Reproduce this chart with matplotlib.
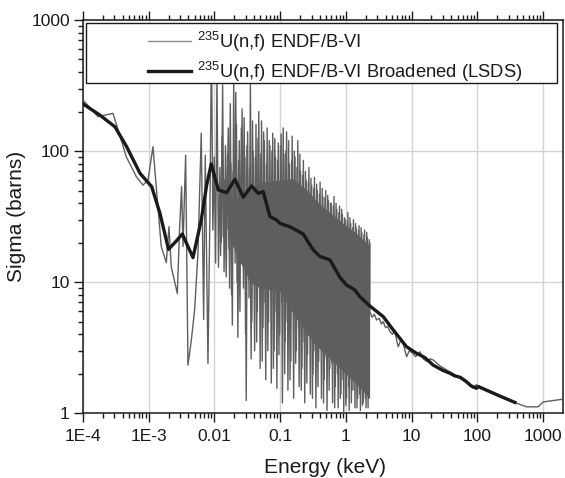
import matplotlib
matplotlib.use("Agg")
import matplotlib.pyplot as plt
from matplotlib.ticker import FixedLocator, FixedFormatter, LogLocator, NullFormatter
from matplotlib.patches import Rectangle

plt.rcParams['font.family'] = ['Liberation Sans', 'DejaVu Sans']
plt.rcParams['mathtext.default'] = 'regular'

# ---------------- data ----------------
# Gray ENDF/B-VI curve, smooth low-energy part (keV, barns)
E_low = [1.0e-4, 1.69e-4, 2.86e-4, 4.55e-4, 6.47e-4, 8.17e-4, 9.73e-4, 1.16e-3, 1.30e-3,
         1.55e-3, 1.85e-3, 2.03e-3, 2.20e-3, 2.72e-3, 2.94e-3, 3.16e-3, 3.32e-3, 3.64e-3,
         3.95e-3, 4.44e-3, 4.98e-3, 5.61e-3, 6.29e-3, 6.84e-3, 7.24e-3, 7.96e-3, 8.5e-3]
S_low = [245, 183, 194, 90.6, 63.8, 55, 60, 108, 53.6,
         18.7, 14.1, 26.5, 13.1, 8.2, 25, 53.6, 18.7, 93,
         2.33, 3.6, 6.1, 16.6, 137, 5.2, 93, 2.4, 30]

# Gray curve, resolved-resonance region (alternating peaks / troughs)
E_res = [0.0090, 0.00945, 0.00992, 0.0104, 0.0109, 0.0115, 0.0121, 0.0127, 0.0133, 0.0140,
         0.0147, 0.0154, 0.0162, 0.0170, 0.0178, 0.0187, 0.0196, 0.0206, 0.0216, 0.0227,
         0.0238, 0.0250, 0.0263, 0.0276, 0.0290, 0.0304, 0.0319, 0.0335, 0.0352, 0.0370,
         0.0388, 0.0408, 0.0428, 0.0449, 0.0472, 0.0495, 0.0520, 0.0546, 0.0574, 0.0602,
         0.0632, 0.0664, 0.0697, 0.0732, 0.0769, 0.0807, 0.0847, 0.0890, 0.0934, 0.0981,
         0.103, 0.108, 0.114, 0.119, 0.125, 0.131, 0.138, 0.145, 0.152, 0.160,
         0.168, 0.176, 0.185, 0.194, 0.204, 0.214, 0.225, 0.236, 0.248, 0.260,
         0.273, 0.287, 0.301, 0.316, 0.332, 0.349, 0.366, 0.385, 0.404, 0.424,
         0.445, 0.467, 0.491, 0.515, 0.541, 0.568, 0.596, 0.626, 0.658, 0.690,
         0.725, 0.761, 0.799, 0.839, 0.881, 0.925, 0.972, 1.02, 1.07, 1.12,
         1.18, 1.24, 1.30, 1.37, 1.43, 1.51, 1.58, 1.66, 1.74, 1.83,
         1.92, 2.02, 2.12, 2.23, 2.29]
S_res = [700, 25, 90, 14, 400, 13, 75, 20, 320, 12,
         110, 25, 150, 9, 80, 4.7, 330, 14, 160, 3.8,
         120, 18, 210, 9, 90, 1.25, 140, 7.6, 330, 5,
         100, 3, 160, 6, 200, 2.2, 170, 4.5, 120, 1.8,
         150, 5, 110, 1.7, 137, 3, 90, 1.55, 115, 4,
         135, 1.2, 95, 3.5, 140, 1.5, 80, 2.5, 130, 1.3,
         90, 3, 120, 1.6, 70, 2.2, 85, 1.2, 60, 2.8,
         75, 1.4, 55, 2, 63, 1.1, 50, 2.5, 58, 1.3,
         45, 1.8, 50, 1.05, 42, 2.2, 40, 1.2, 45, 1.6,
         36, 1.1, 38, 1.4, 33, 1.0, 30, 1.3, 34, 1.05,
         28, 1.5, 30, 1.1, 26, 1.3, 27, 1.05, 24, 1.2,
         25, 1.1, 22, 1.3, 20]

# Further resonances lying between the ones above
E_res2 = [0.0118, 0.0124, 0.0130, 0.0136, 0.0143, 0.0151, 0.0158, 0.0166, 0.0174, 0.0182,
          0.0192, 0.0201, 0.0211, 0.0221, 0.0233, 0.0244, 0.0256, 0.0270, 0.0283, 0.0297,
          0.0312, 0.0327, 0.0343, 0.0361, 0.0379, 0.0398, 0.0418, 0.0439, 0.0460, 0.0484,
          0.0507, 0.0533, 0.0560, 0.0588, 0.0617, 0.0648, 0.0681, 0.0714, 0.0750, 0.0788,
          0.0827, 0.0868, 0.0912, 0.0957, 0.101, 0.106, 0.111, 0.117, 0.122, 0.128,
          0.134, 0.141, 0.149, 0.156, 0.164, 0.172, 0.180, 0.190, 0.199, 0.209,
          0.219, 0.231, 0.242, 0.254, 0.267, 0.280, 0.294, 0.309, 0.324, 0.340,
          0.358, 0.375, 0.395, 0.414, 0.435, 0.456, 0.479, 0.503, 0.528, 0.555,
          0.582, 0.611, 0.642, 0.674, 0.707, 0.743, 0.780, 0.819, 0.860, 0.903,
          0.948, 0.996, 1.05, 1.10, 1.15, 1.21, 1.27, 1.33, 1.40, 1.47,
          1.55, 1.62, 1.70, 1.78, 1.88, 1.97, 2.07, 2.17, 2.26]
S_res2 = [45, 16, 130, 22, 60, 11, 95, 18, 230, 8,
          70, 25, 280, 10, 85, 6, 150, 20, 180, 4,
          110, 15, 75, 2.6, 170, 12, 90, 3.5, 125, 10,
          95, 2.5, 140, 7, 80, 3, 120, 9, 100, 2.2,
          125, 6, 85, 2.8, 110, 7, 150, 2, 100, 5,
          120, 1.8, 85, 6, 100, 2.4, 75, 4.5, 95, 1.5,
          65, 3.5, 70, 1.7, 58, 4, 62, 1.3, 52, 3,
          56, 1.6, 47, 3.2, 52, 1.2, 44, 2.6, 46, 1.5,
          40, 2.4, 38, 1.1, 40, 2.0, 34, 1.3, 36, 1.8,
          31, 1.15, 29, 1.6, 31, 1.2, 26, 1.5, 28, 1.1,
          25, 1.4, 26, 1.15, 23, 1.3, 24, 1.1, 21]

# Dense core of the resonance band (upper / lower edge)
E_core = [0.018, 0.025, 0.035, 0.05, 0.1, 0.15, 0.24, 0.35, 0.57, 1.0, 1.4, 2.29]
S_core_hi = [35, 45, 50, 58, 60, 62, 52, 42, 34, 27, 24, 19]
S_core_lo = [20, 14, 10, 9, 8.5, 6, 4.2, 3.3, 2.6, 2.0, 1.7, 1.3]

# Gray curve, unresolved / fast region
E_high = [2.31, 2.5, 2.7, 2.92, 3.2, 3.45, 3.69, 4.0, 4.3, 4.67, 5.1, 5.56, 5.9, 6.24,
          6.8, 7.43, 7.9, 8.36, 9.2, 10.3, 11.5, 13.3, 15.0, 16.8, 19.0, 21.2, 27.0,
          33.9, 43.0, 54.1, 70.0, 86.1, 95.0, 109, 200, 350, 558, 838, 1000, 1972]
S_high = [5.96, 5.4, 5.7, 5.15, 5.3, 4.8, 5.0, 4.5, 4.6, 4.2, 4.0, 4.3, 3.6, 3.22,
          3.6, 3.4, 3.0, 2.7, 3.0, 2.87, 2.7, 2.95, 2.6, 2.5, 2.6, 2.55, 2.3,
          2.14, 2.0, 1.85, 1.7, 1.55, 1.65, 1.6, 1.4, 1.22, 1.12, 1.12, 1.22, 1.28]

# Black broadened (LSDS) curve
E_brd = [1.0e-4, 1.81e-4, 3.07e-4, 4.61e-4, 7.36e-4, 1.11e-3, 1.48e-3, 2.0e-3, 2.6e-3,
         3.24e-3, 3.9e-3, 4.71e-3, 6.29e-3, 7.6e-3, 8.93e-3, 0.01143, 0.0153, 0.0205,
         0.0274, 0.0367, 0.0463, 0.0552, 0.0698, 0.0881, 0.1, 0.14, 0.224, 0.318, 0.402,
         0.570, 0.809, 1.02, 1.15, 1.37, 1.63, 2.31, 3.69, 5.24, 8.34, 11.8, 14.0, 16.0,
         21.2, 30.0, 38.1, 45.0, 55.0, 68.2, 80.0, 96.8, 102.6, 200, 371]
S_brd = [229, 188, 153, 108, 67.7, 53.5, 33.5, 17.8, 20.5,
         23.3, 19, 15.4, 29.8, 55, 79.8, 50.5, 48.2, 61,
         44.5, 54.2, 47.6, 49, 31.6, 29.8, 28, 26.5, 23.3, 17.6, 15.7,
         14.8, 10.9, 9.5, 9.2, 8.7, 7.75, 6.58, 5.46, 4.32, 3.22, 2.87, 2.75, 2.65,
         2.33, 2.12, 2.02, 1.93, 1.88, 1.74, 1.62, 1.55, 1.6, 1.38, 1.21]

x_ticks = [1e-4, 1e-3, 1e-2, 1e-1, 1, 10, 100, 1000]
x_tick_labels = ['1E-4', '1E-3', '0.01', '0.1', '1', '10', '100', '1000']
y_ticks = [1, 10, 100, 1000]
y_tick_labels = ['1', '10', '100', '1000']

label_gray = r'$^{235}$U(n,f) ENDF/B-VI'
label_black = r'$^{235}$U(n,f) ENDF/B-VI Broadened (LSDS)'

# ---------------- figure ----------------
gray = '#5e5e5e'
fig = plt.figure(figsize=(5.65, 4.78), dpi=100)
ax = fig.add_axes([0.1469, 0.1354, 0.849, 0.8228])
ax.set_xscale('log')
ax.set_yscale('log')

E_gray = E_low + E_res + E_high
S_gray = S_low + S_res + S_high
ax.fill_between(E_core, S_core_lo, S_core_hi, color=gray, lw=0, zorder=2)
ax.plot(E_res2, S_res2, color=gray, lw=1.0, zorder=3)
ax.plot(E_gray, S_gray, color=gray, lw=1.0, zorder=3, label=label_gray)
ax.plot(E_brd, S_brd, color='#1a1a1a', lw=2.4, zorder=4, label=label_black,
        solid_joinstyle='round')

ax.set_xlim(1e-4, 1980)
ax.set_ylim(1, 1000)

ax.xaxis.set_major_locator(FixedLocator(x_ticks))
ax.xaxis.set_major_formatter(FixedFormatter(x_tick_labels))
ax.yaxis.set_major_locator(FixedLocator(y_ticks))
ax.yaxis.set_major_formatter(FixedFormatter(y_tick_labels))
ax.xaxis.set_minor_locator(LogLocator(base=10, subs=range(2, 10), numticks=50))
ax.yaxis.set_minor_locator(LogLocator(base=10, subs=range(2, 10), numticks=50))
ax.xaxis.set_minor_formatter(NullFormatter())
ax.yaxis.set_minor_formatter(NullFormatter())

ax.tick_params(which='both', direction='out', top=True, right=False, width=1, colors='#1a1a1a')
ax.tick_params(which='major', length=6.5)
ax.tick_params(which='minor', length=3.5)
ax.tick_params(axis='x', which='major', pad=5, labelsize=12.5)
ax.tick_params(axis='y', which='major', pad=3, labelsize=12.5)

ax.grid(True, which='major', color='#d4d4d4', lw=1)
ax.set_axisbelow(True)
for sp in ax.spines.values():
    sp.set_color('#1a1a1a')
    sp.set_linewidth(1.1)

ax.set_xlabel('Energy (keV)', fontsize=15, color='#1a1a1a')
ax.set_ylabel('Sigma (barns)', fontsize=15, color='#1a1a1a')
ax.xaxis.set_label_coords(0.504, -0.113)
ax.yaxis.set_label_coords(-0.118, 0.5)

# legend box
ax.add_patch(Rectangle((0.006, 0.840), 0.982, 0.152, transform=ax.transAxes,
                       facecolor='white', edgecolor='#1a1a1a', lw=1.0, zorder=10))
leg = ax.legend(loc='upper left', bbox_to_anchor=(0.1355, 0.975), frameon=False,
                fontsize=13.2, handlelength=2.35, handletextpad=0.35, borderpad=0,
                borderaxespad=0, labelspacing=0.3)
leg.set_zorder(11)
leg.get_lines()[0].set_color('#8a8a8a')
for t in leg.get_texts():
    t.set_color('#1a1a1a')

fig.savefig('out.png', dpi=100)
